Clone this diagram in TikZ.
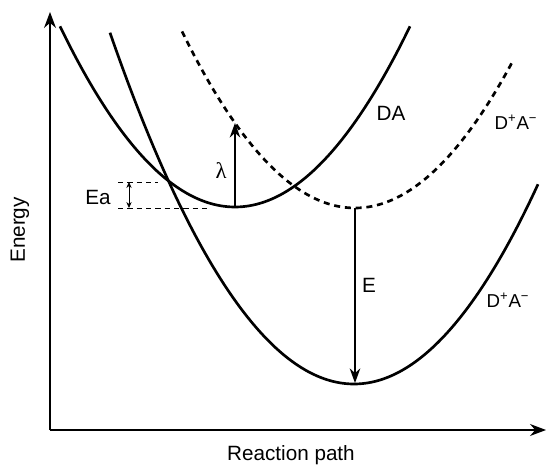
\documentclass[tikz,border=0pt]{standalone}
\usepackage{fontspec}
\setmainfont{Liberation Sans}
\newfontfamily\greekfont{Liberation Serif}
\usetikzlibrary{arrows.meta}
\begin{document}
\begin{tikzpicture}[x=0.75pt,y=-0.75pt,
  axis/.style={line width=1.1pt,-{Stealth[length=12pt,width=9pt]}},
  curve/.style={line width=2pt},
  dcurve/.style={line width=2pt,dash pattern=on 4.5pt off 3.6pt},
  tarrow/.style={line width=0.8pt,-{Stealth[length=11pt,width=8pt]}},
  guide/.style={line width=0.7pt,dash pattern=on 4pt off 3pt},
  small/.style={line width=0.6pt,{Stealth[length=4.5pt,width=4pt]}-{Stealth[length=4.5pt,width=4pt]}},
  lbl/.style={font=\fontsize{15.5}{18}\selectfont, inner sep=0pt}]
\useasboundingbox (0,0) rectangle (546,466);
% axes
\coordinate (origin) at (50,430);
\coordinate (ytip) at (50,12);
\coordinate (xtip) at (546,430);
\draw[axis] (origin) -- (ytip);
\draw[axis] (origin) -- (xtip);
% curves
\draw[curve] plot[domain=60:410, samples=120] (\x, {207 - 0.59*((\x-235)/10)^2});
\draw[dcurve] plot[domain=182:513, samples=120] (\x, {208 - 0.59*((\x-355)/10)^2});
\draw[curve] plot[domain=110:538, samples=150] (\x, {384 - 0.59*((\x-354)/10)^2});
% key points
\coordinate (daMin) at (235,207);
\coordinate (daUp) at (235,123);
\coordinate (ctMin) at (355,208);
\coordinate (lowMin) at (355,383);
\coordinate (eaTopL) at (118,182);
\coordinate (eaTopR) at (158,182);
\coordinate (eaBotL) at (118,208);
\coordinate (eaBotR) at (210,208);
\coordinate (eaA) at (129,182);
\coordinate (eaB) at (129,208);
% guides
\draw[guide] (eaTopL) -- (eaTopR);
\draw[guide] (eaBotL) -- (eaBotR);
\draw[small] (eaA) -- (eaB);
% arrows
\draw[tarrow] (daMin) -- (daUp);
\draw[tarrow] (ctMin) -- (lowMin);
% labels
\node[lbl] (ea) at (98,197) {Ea};
\node[lbl,font=\fontsize{17}{20}\greekfont] (lam) at (221,171) {λ};
\node[lbl] (e) at (369,285) {E};
\node[lbl] (da) at (391,113) {DA};
\node[lbl,font=\fontsize{14}{17}\selectfont] (dpa1) at (516,122) {D\textsuperscript{+}A\textsuperscript{−}};
\node[lbl,font=\fontsize{14}{17}\selectfont] (dpa2) at (508,300) {D\textsuperscript{+}A\textsuperscript{−}};
\node[lbl,rotate=90] (energy) at (20,230) {Energy};
\node[lbl] (rpath) at (291,455) {Reaction path};
\end{tikzpicture}
\end{document}
